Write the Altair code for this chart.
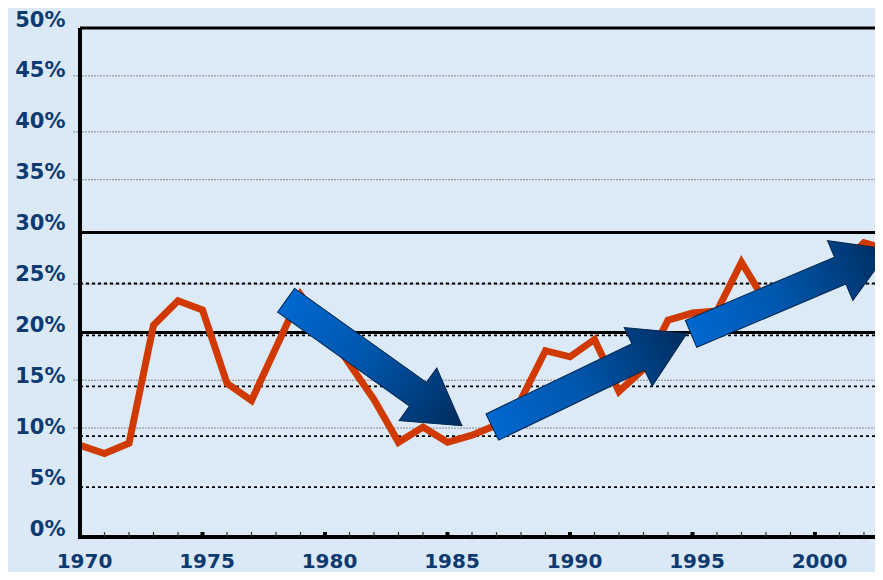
import altair as alt
import pandas as pd

# ---- data ----
years = list(range(1970, 2004))
values = [9.0, 8.2, 9.2, 20.8, 23.2, 22.3, 15.1, 13.4, 18.6, 23.8,
          20.5, 17.0, 13.5, 9.3, 10.8, 9.3, 10.0, 11.0, 13.5, 18.3,
          17.7, 19.4, 14.3, 16.5, 21.3, 22.0, 22.2, 27.0, 23.0, 24.0,
          25.0, 26.5, 28.9, 28.2]

y_ticks = [0, 5, 10, 15, 20, 25, 30, 35, 40, 45, 50]
x_ticks = [1970, 1975, 1980, 1985, 1990, 1995, 2000]
minor_years = list(range(1971, 2003))

gray_lines = [45.3, 39.8, 35.1, 24.85, 15.4, 10.7]
dotted_lines = [24.9, 19.8, 14.8, 9.9, 4.9]
thick_lines = [29.9, 20.1, 50.0]

arrow_x = [1982.0, 1990.8, 1999.0]
arrow_y = [17.1, 15.4, 24.1]
arrow_angle = [35.5, 334.3, 337.0]

# ---- layout ----
W, H = 795, 509
XDOM = [1970, 2002.45]
NAVY = "#0d3a70"
FONT = "DejaVu Sans"

xs = alt.Scale(domain=XDOM, nice=False, zero=False)
ys = alt.Scale(domain=[0, 50], nice=False, zero=True)

line_df = pd.DataFrame({"year": years, "value": values})
gray_df = pd.DataFrame({"v": gray_lines})
dot_df = pd.DataFrame({"v": dotted_lines})
thick_df = pd.DataFrame({"v": thick_lines})
minor_df = pd.DataFrame({"year": [y for y in minor_years if y % 5 != 0]})
major_df = pd.DataFrame({"year": [y for y in minor_years if y % 5 == 0]})
arrow_df = pd.DataFrame({"x": arrow_x, "y": arrow_y, "angle": arrow_angle})

# base with axes
base = alt.Chart(line_df).mark_line(opacity=0).encode(
    x=alt.X("year:Q", scale=xs,
            axis=alt.Axis(values=x_ticks, format="d", title=None, domain=False,
                          ticks=False, grid=False, labelFont=FONT, labelFontSize=20,
                          labelFontWeight="bold", labelColor=NAVY, labelPadding=14,
                          labelOffset=4, labelFlush=False)),
    y=alt.Y("value:Q", scale=ys,
            axis=alt.Axis(values=y_ticks, labelExpr="datum.value + '%'", title=None,
                          domain=False, ticks=False, grid=False, labelFont=FONT,
                          labelFontSize=21, labelFontWeight="bold", labelColor=NAVY,
                          labelPadding=15, labelOffset=-8)),
)

gray = alt.Chart(gray_df).mark_rule(color="#808080", strokeWidth=0.9,
                                    strokeDash=[2, 1]).encode(
    y=alt.Y("v:Q", scale=ys), x=alt.value(-7), x2=alt.value(W))

dotted = alt.Chart(dot_df).mark_rule(color="black", strokeWidth=1.8,
                                     strokeDash=[3, 3]).encode(
    y=alt.Y("v:Q", scale=ys), x=alt.value(0), x2=alt.value(W))

thick = alt.Chart(thick_df).mark_rule(color="black", strokeWidth=3).encode(
    y=alt.Y("v:Q", scale=ys), x=alt.value(0), x2=alt.value(W))

left_axis = alt.Chart(line_df).mark_rule(color="black", strokeWidth=3).encode(
    x=alt.value(0), y=alt.value(0), y2=alt.value(H + 2))

bottom_axis = alt.Chart(line_df).mark_rule(color="black", strokeWidth=4).encode(
    y=alt.value(H), x=alt.value(-1.5), x2=alt.value(W))

minor = alt.Chart(minor_df).mark_rule(color="#333333", strokeWidth=1.2).encode(
    x=alt.X("year:Q", scale=xs), y=alt.value(H - 5), y2=alt.value(H))

major = alt.Chart(major_df).mark_rule(color="black", strokeWidth=4).encode(
    x=alt.X("year:Q", scale=xs), y=alt.value(H - 5), y2=alt.value(H))

red = alt.Chart(line_df).mark_line(color="#d03a00", strokeWidth=7, clip=True).encode(
    x=alt.X("year:Q", scale=xs), y=alt.Y("value:Q", scale=ys))

arrow_path = ("M -1 -0.135 L 0.5 -0.135 L 0.5 -0.3 L 1 0 L 0.5 0.3 "
              "L 0.5 0.135 L -1 0.135 Z")
grad = alt.LinearGradient(
    gradient="linear", x1=0, y1=0, x2=1, y2=0,
    stops=[alt.GradientStop(color="#0068d0", offset=0),
           alt.GradientStop(color="#0056ac", offset=0.45),
           alt.GradientStop(color="#002c5e", offset=1)])

arrows = alt.Chart(arrow_df).mark_point(
    shape=arrow_path, filled=True, fill=grad, stroke="#00264f", strokeWidth=1,
    size=216 * 216, opacity=1).encode(
    x=alt.X("x:Q", scale=xs), y=alt.Y("y:Q", scale=ys),
    angle=alt.Angle("angle:Q", scale=None))

chart = alt.layer(base, gray, dotted, thick, red, arrows, left_axis, bottom_axis,
                  minor, major).properties(
    width=W, height=H,
    autosize=alt.AutoSizeParams(type="none"),
    padding={"left": 72, "top": 20, "right": 0, "bottom": 35},
    background="#dbe8f6",
).configure_view(strokeWidth=0, fill="#dce9f7")

chart.save("out.html", embed_options={"renderer": "svg", "actions": False})
